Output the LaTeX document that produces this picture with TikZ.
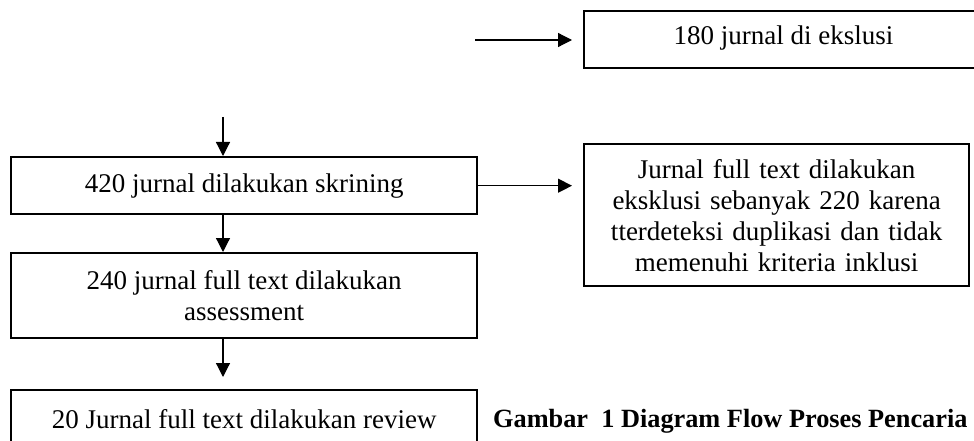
\documentclass[tikz,border=0pt]{standalone}
\usepackage{fontspec}
\setmainfont{Liberation Serif}
\usetikzlibrary{arrows.meta}
\begin{document}
\begin{tikzpicture}[x=1pt,y=-1pt,
  box/.style={draw,line width=2.4pt,inner sep=0pt,align=center,anchor=north west,font=\fontsize{27}{31}\selectfont},
  arr/.style={line width=1.2pt,-{Triangle[length=14pt,width=14pt]}}]
\clip (0,0) rectangle (974,441);
\node[box,minimum width=402pt,minimum height=57pt] (b180) at (583,10) {};
\node[font=\fontsize{27}{31}\selectfont,inner sep=0pt] (t180) at (783.5,38.5) {180 jurnal di ekslusi};
\node[box,minimum width=466pt,minimum height=57pt] (b420) at (10,156) {420 jurnal dilakukan skrining};
\node[box,minimum width=385pt,minimum height=142pt,text width=380pt] (bj) at (583,143) {Jurnal full text dilakukan\\eksklusi sebanyak 220 karena\\tterdeteksi duplikasi dan tidak\\memenuhi kriteria inklusi};
\node[box,minimum width=466pt,minimum height=85pt] (b240) at (10,252) {240 jurnal full text dilakukan\\assessment};
\node[box,minimum width=466pt,minimum height=57pt] (b20) at (10,389) {20 Jurnal full text dilakukan review};
\node[anchor=base west,inner sep=0pt,font=\bfseries\fontsize{26.3}{31}\selectfont] (cap) at (493,427) {Gambar\ \ 1 Diagram Flow Proses Pencaria};
\coordinate (s1) at (475,40);
\coordinate (ax) at (223,117);
\draw[arr,shorten >=11pt] (s1) -- (s1 -| b180.west);
\draw[arr,shorten >=11pt] (b420.east) -- (b420.east -| bj.west);
\draw[arr] (ax) -- (ax |- b420.north);
\draw[arr] (ax |- b420.south) -- (ax |- b240.north);
\draw[arr,shorten >=12pt] (ax |- b240.south) -- (ax |- b20.north);
\end{tikzpicture}
\end{document}
